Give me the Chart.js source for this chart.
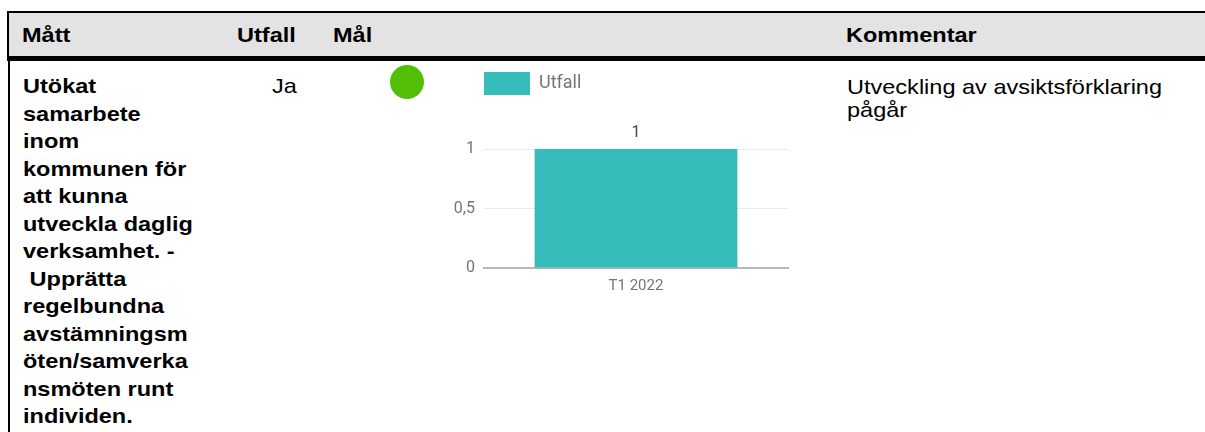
<!DOCTYPE html>
<html>
<head>
<meta charset="utf-8">
<script src="https://cdn.jsdelivr.net/npm/chart.js@4/dist/chart.umd.min.js"></script>
<style>
  body { margin: 0; width: 1205px; height: 432px; overflow: hidden; background: #fff; font-family: "Liberation Sans", Arial, sans-serif; }
  .abs { position: absolute; }
  .txt { transform: scaleX(1.12); transform-origin: 0 0; white-space: nowrap; color: #000; font-size: 21px; }
  #topline { left: 7px; top: 11px; width: 1198px; height: 2px; background: #000; }
  #head { left: 9px; top: 13px; width: 1196px; height: 43px; background: #e3e3e3; }
  #headleft { left: 7px; top: 11px; width: 2px; height: 45px; background: #000; }
  #thick { left: 7px; top: 56px; width: 1198px; height: 5px; background: #000; }
  #bodyleft { left: 8px; top: 61px; width: 2px; height: 371px; background: #000; }
  .h { font-weight: bold; top: 21.4px; line-height: 28px; }
  #matt { left: 23px; top: 72.3px; font-weight: bold; line-height: 27.5px; }
  #ja { left: 272px; top: 72.3px; line-height: 27.5px; }
  #dot { left: 390px; top: 65px; width: 34px; height: 34px; border-radius: 50%; background: #52bf06; }
  #komm { left: 847px; top: 74.6px; line-height: 23px; }
  #wrap { left: 440px; top: 72px; width: 352px; height: 232px; }
</style>
</head>
<body>
<div class="abs" id="topline"></div>
<div class="abs" id="head"></div>
<div class="abs" id="headleft"></div>
<div class="abs" id="thick"></div>
<div class="abs" id="bodyleft"></div>

<div class="abs txt h" style="left:22px">Mått</div>
<div class="abs txt h" style="left:237px">Utfall</div>
<div class="abs txt h" style="left:333px">Mål</div>
<div class="abs txt h" style="left:846px">Kommentar</div>

<div class="abs txt" id="matt">Utökat<br>samarbete<br>inom<br>kommunen för<br>att kunna<br>utveckla daglig<br>verksamhet. -<br>&nbsp;Upprätta<br>regelbundna<br>avstämningsm<br>öten/samverka<br>nsmöten runt<br>individen.</div>
<div class="abs txt" id="ja">Ja</div>
<div class="abs" id="dot"></div>
<div class="abs txt" id="komm">Utveckling av avsiktsförklaring<br>pågår</div>

<div class="abs" id="wrap"><canvas id="utfallChart"></canvas></div>

<script>
var periods = ['T1 2022'];
var utfall = [1];
var yTicks = [0, 0.5, 1];

// draws the value above each bar
var valueLabels = {
    id: 'valueLabels',
    // extra room between legend and plot, so the top gridline sits lower
    beforeLayout: function (chart) {
        var lg = chart.legend;
        if (lg && !lg._extraGap) {
            var fit = lg.fit;
            lg.fit = function () { fit.call(this); this.height += 44; };
            lg._extraGap = true;
        }
    },
    afterDatasetsDraw: function (chart) {
        var ctx = chart.ctx;
        ctx.save();
        ctx.font = '16px Roboto';
        ctx.fillStyle = '#444';
        ctx.textAlign = 'center';
        ctx.textBaseline = 'bottom';
        chart.getDatasetMeta(0).data.forEach(function (bar, i) {
            ctx.fillText(String(utfall[i]).replace('.', ','), bar.x, bar.y - 8);
        });
        ctx.restore();
    }
};

function createUtfallChart() {
    var ctx = document.getElementById('utfallChart').getContext('2d');
    new Chart(ctx, {
        type: 'bar',
        data: {
            labels: periods,
            datasets: [{
                label: 'Utfall',
                data: utfall,
                backgroundColor: '#37bcbc',
                borderColor: '#37bcbc',
                borderWidth: 0,
                barPercentage: 0.667,
                categoryPercentage: 1
            }]
        },
        options: {
            responsive: true,
            maintainAspectRatio: false,
            animation: false,
            layout: { padding: { top: 0, right: 4, bottom: 0, left: 0 } },
            plugins: {
                legend: {
                    position: 'top',
                    align: 'start',
                    fullSize: false,
                    labels: {
                        boxWidth: 46,
                        boxHeight: 23,
                        padding: 0,
                        color: '#757575',
                        font: { family: 'Roboto', size: 18 }
                    }
                },
                tooltip: { enabled: false }
            },
            scales: {
                x: {
                    grid: { display: false, drawTicks: false },
                    border: { color: '#b8b8b8', width: 2 },
                    ticks: { color: '#757575', font: { family: 'Roboto', size: 15 }, padding: 9 }
                },
                y: {
                    min: 0,
                    max: 1,
                    afterFit: function (scale) { scale.width = 44; },
                    afterBuildTicks: function (scale) {
                        scale.ticks = yTicks.map(function (v) { return { value: v }; });
                    },
                    grid: {
                        drawTicks: false,
                        color: function (c) { return c.tick.value === 0 ? 'rgba(0,0,0,0)' : '#e6ebf0'; }
                    },
                    border: { display: false },
                    ticks: {
                        color: '#757575',
                        font: { family: 'Roboto', size: 16 },
                        padding: 9,
                        callback: function (v) { return String(v).replace('.', ','); }
                    }
                }
            }
        },
        plugins: [valueLabels]
    });
}

createUtfallChart();
</script>
</body>
</html>
